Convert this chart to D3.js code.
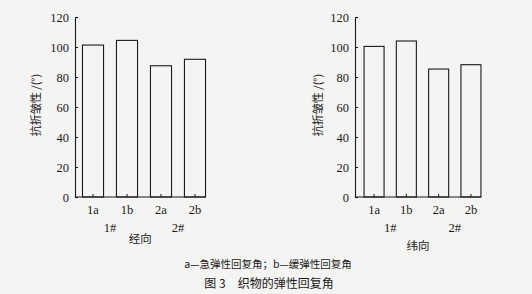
<!DOCTYPE html>
<html>
<head>
<meta charset="utf-8">
<script src="https://cdn.jsdelivr.net/npm/d3@7"></script>
<style>
    body { margin: 0; background: #f4f4f2; }
    svg { display: block; }
</style>
</head>
<body>
<div class="canvas"></div>
<script>
// data
const categories = ['1a', '1b', '2a', '2b'];
const groups = ['1#', '2#'];
const warpValues = [101.3, 104.4, 87.5, 91.8];
const weftValues = [100.4, 104.0, 85.3, 88.2];
const yTicks = [0, 20, 40, 60, 80, 100, 120];
const yLabel = '抗折皱性 /(°)';
const legendText = 'a—急弹性回复角；b—缓弹性回复角';
const captionText = '图 3　织物的弹性回复角';

const width = 532;
const height = 294;
const ink = '#1a1a1a';
const serif = '"Liberation Serif", "DejaVu Serif", serif';
const cjk = '"Noto Sans CJK SC", sans-serif';

const svg = d3.select('.canvas')
    .append('svg')
    .attr('width', width)
    .attr('height', height)
;

svg.append('rect')
    .attr('width', width)
    .attr('height', height)
    .attr('fill', '#f4f4f2')
;

const panels = [
    { values: warpValues, title: '经向', left: 75, right: 213, po: 0.22, titleY: 239, labelX: 36 },
    { values: weftValues, title: '纬向', left: 355, right: 490, po: 0.28, titleY: 246, labelX: 318 }
];

const y = d3.scaleLinear().domain([ 0, 120 ]).range([ 197, 17 ]);

panels.forEach(p => {
    const g = svg.append('g');

    const x = d3.scaleBand()
        .domain(categories)
        .range([ p.left, p.right ])
        .paddingInner(0.38)
        .paddingOuter(p.po)
    ;

    // bars
    g.selectAll('rect.bar')
        .data(p.values)
        .enter()
        .append('rect')
            .attr('class', 'bar')
            .attr('x', (d, i) => x(categories[i]))
            .attr('y', d => y(d))
            .attr('width', x.bandwidth())
            .attr('height', d => y(0) - y(d))
            .attr('fill', 'none')
            .attr('stroke', ink)
            .attr('stroke-width', 1.1)
    ;

    // y axis
    const yAxis = d3.axisLeft(y).tickValues(yTicks).tickSize(-3).tickSizeOuter(0).tickPadding(6);
    const yAxisGroup = g.append('g')
        .attr('transform', `translate(${p.left}, 0)`)
        .call(yAxis)
    ;
    yAxisGroup.selectAll('text')
        .attr('font-family', serif)
        .attr('font-size', 12.5)
        .attr('fill', ink)
    ;
    yAxisGroup.selectAll('line, path').attr('stroke', ink).attr('stroke-width', 1.1);

    // x axis
    const lastRight = x(categories[categories.length - 1]) + x.bandwidth();
    const xAxis = d3.axisBottom(x).tickSize(-3).tickSizeOuter(0).tickPadding(8);
    const xAxisGroup = g.append('g')
        .attr('transform', `translate(0, ${y(0)})`)
        .call(xAxis)
    ;
    xAxisGroup.select('.domain').remove();
    xAxisGroup.append('line')
        .attr('x1', p.left)
        .attr('x2', lastRight)
        .attr('stroke', ink)
        .attr('stroke-width', 1.1)
    ;
    xAxisGroup.selectAll('line').attr('stroke', ink);
    xAxisGroup.selectAll('text')
        .attr('font-family', serif)
        .attr('font-size', 12.5)
        .attr('fill', ink)
    ;

    // group labels
    g.selectAll('text.group')
        .data(groups)
        .enter()
        .append('text')
            .attr('class', 'group')
            .attr('x', (d, i) => (x(categories[i * 2]) + x(categories[i * 2 + 1]) + x.bandwidth()) / 2)
            .attr('y', 232)
            .attr('text-anchor', 'middle')
            .attr('font-family', serif)
            .attr('font-size', 12.5)
            .attr('fill', ink)
            .text(d => d)
    ;

    g.append('text')
        .attr('x', (p.left + lastRight) / 2)
        .attr('y', p.titleY + 4)
        .attr('text-anchor', 'middle')
        .attr('font-family', cjk)
        .attr('font-size', 11.5)
        .attr('fill', ink)
        .text(p.title)
    ;

    // y label
    g.append('text')
        .attr('transform', `translate(${p.labelX + 4}, 105) rotate(-90)`)
        .attr('text-anchor', 'middle')
        .attr('font-family', cjk)
        .attr('font-size', 11)
        .attr('fill', ink)
        .text(yLabel)
    ;
});

svg.append('text')
    .attr('x', 268)
    .attr('y', 268)
    .attr('text-anchor', 'middle')
    .attr('font-family', cjk)
    .attr('font-size', 10.5)
    .attr('fill', ink)
    .text(legendText)
;

svg.append('text')
    .attr('x', 269)
    .attr('y', 288)
    .attr('text-anchor', 'middle')
    .attr('font-family', cjk)
    .attr('font-size', 12)
    .attr('fill', ink)
    .text(captionText)
;
</script>
</body>
</html>
